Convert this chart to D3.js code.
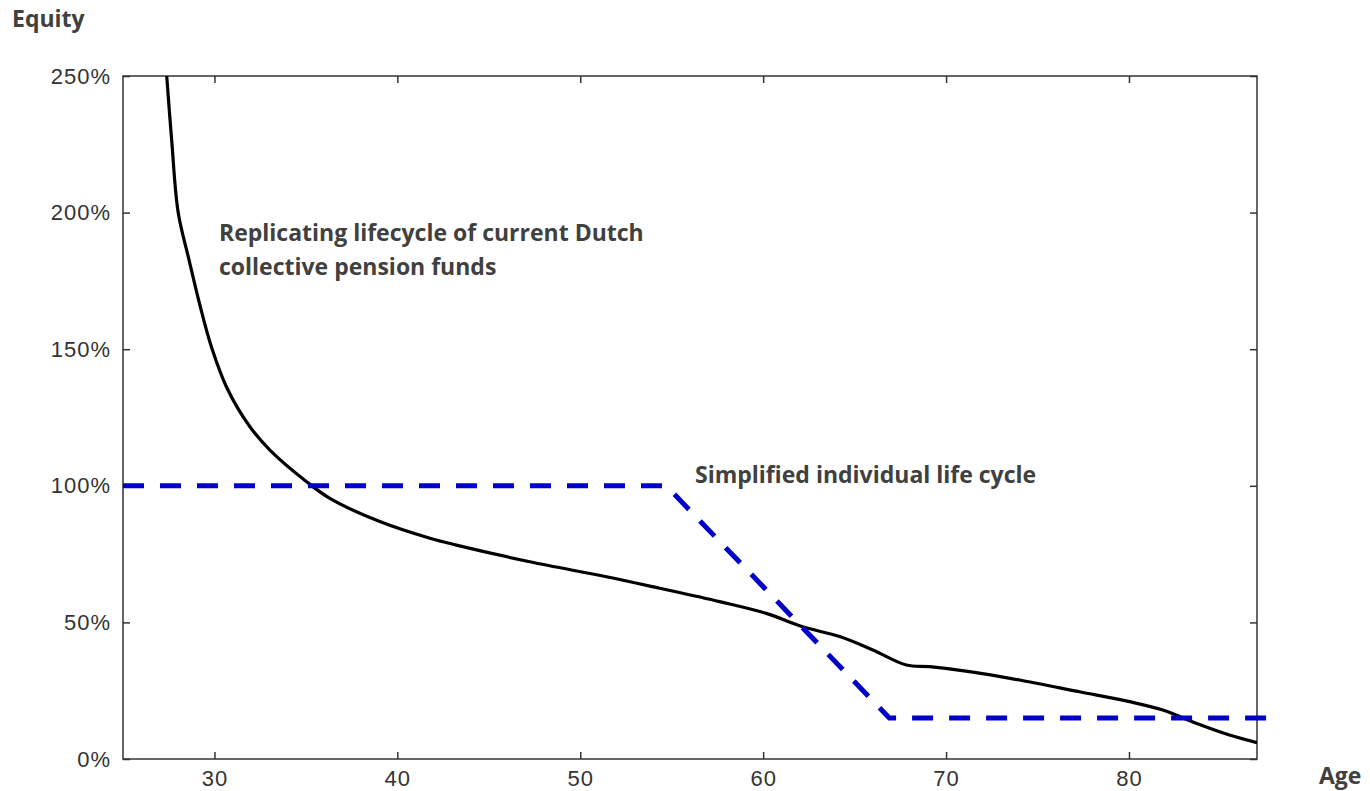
<!DOCTYPE html>
<html><head><meta charset="utf-8">
<script src="https://cdn.jsdelivr.net/npm/d3@7"></script>
<style>body{margin:0;background:#fff}svg{display:block}</style>
</head><body><svg id="c" width="1370" height="791"></svg>
<script>
const ages = [27.39,27.66,28.02,28.6,29.21,29.85,30.67,31.94,33.03,35.04,36.31,39.04,41.78,43.23,47.24,51.43,54.34,57.62,60.17,62.17,64.18,66.0,67.83,69.1,71.28,74.02,77.30,80.03,81.85,83.67,85.49,87.0];
const equity = [250,226.6,199.9,183,166,150.5,136,121.6,113.1,101.5,95.4,86.9,80.8,78.3,72.2,66.7,62.5,57.6,53.3,48.4,44.8,39.9,34.4,33.8,32.0,28.9,24.6,21.0,17.9,13.1,8.8,6.0];
const simpleAges = [25,54.7,66.9,87.65];
const simpleEquity = [100,100,15,15];
const xTicks = [30,40,50,60,70,80];
const yTicks = [0,50,100,150,200,250];

const svg = d3.select("#c");
const L=123,R=1257,T=76,B=759;
const x = d3.scaleLinear().domain([25,87]).range([L,R]);
const y = d3.scaleLinear().domain([0,250]).range([B,T]);
const tickFont = "'Liberation Sans', Arial, sans-serif";
const axisCol = "#333";

// frame
svg.append("rect").attr("x",L).attr("y",T).attr("width",R-L).attr("height",B-T)
  .attr("fill","none").attr("stroke",axisCol).attr("stroke-width",1.5);

const gBottom = svg.append("g").attr("transform",`translate(0,${B})`)
  .call(d3.axisBottom(x).tickValues(xTicks).tickSizeInner(-7).tickSizeOuter(0).tickPadding(11).tickFormat(d3.format("d")));
const gTop = svg.append("g").attr("transform",`translate(0,${T})`)
  .call(d3.axisTop(x).tickValues(xTicks).tickSizeInner(-7).tickSizeOuter(0).tickFormat(""));
const gLeft = svg.append("g").attr("transform",`translate(${L},0)`)
  .call(d3.axisLeft(y).tickValues(yTicks).tickSizeInner(-7).tickSizeOuter(0).tickPadding(12).tickFormat(d=>d+"%"));
const gRight = svg.append("g").attr("transform",`translate(${R},0)`)
  .call(d3.axisRight(y).tickValues(yTicks).tickSizeInner(-7).tickSizeOuter(0).tickFormat(""));
[gBottom,gTop,gLeft,gRight].forEach(g=>{
  g.select(".domain").remove();
  g.selectAll("line").attr("stroke",axisCol).attr("stroke-width",1.5);
  g.selectAll("text").attr("fill","#333").style("font-family",tickFont).style("font-size","22px").style("letter-spacing","1px");
});

// curve
svg.append("clipPath").attr("id","clip").append("rect").attr("x",L).attr("y",T).attr("width",R-L).attr("height",B-T);
const pts = ages.map((a,i)=>[a,equity[i]]);
svg.append("path").datum(pts).attr("clip-path","url(#clip)")
  .attr("d",d3.line().x(d=>x(d[0])).y(d=>y(d[1])).curve(d3.curveCatmullRom.alpha(0.5)))
  .attr("fill","none").attr("stroke","#000").attr("stroke-width",3.2);

// simplified
const sp = simpleAges.map((a,i)=>[a,simpleEquity[i]]);
svg.append("path").datum(sp)
  .attr("d",d3.line().x(d=>x(d[0])).y(d=>y(d[1])))
  .attr("fill","none").attr("stroke","#0000c8").attr("stroke-width",5).attr("stroke-dasharray","21,16");

const lab = "'Open Sans', 'Noto Sans', sans-serif";
function txt(t,xx,yy,fs){svg.append("text").attr("x",xx).attr("y",yy).text(t)
  .style("font-family",lab).style("font-weight","700").style("font-size",fs+"px").attr("fill","#404040");}
txt("Equity",12,27,23);
txt("Replicating lifecycle of current Dutch",219,241,23);
txt("collective pension funds",219,275,23);
txt("Simplified individual life cycle",695,483,23);
txt("Age",1319,784,23);
</script></body></html>
